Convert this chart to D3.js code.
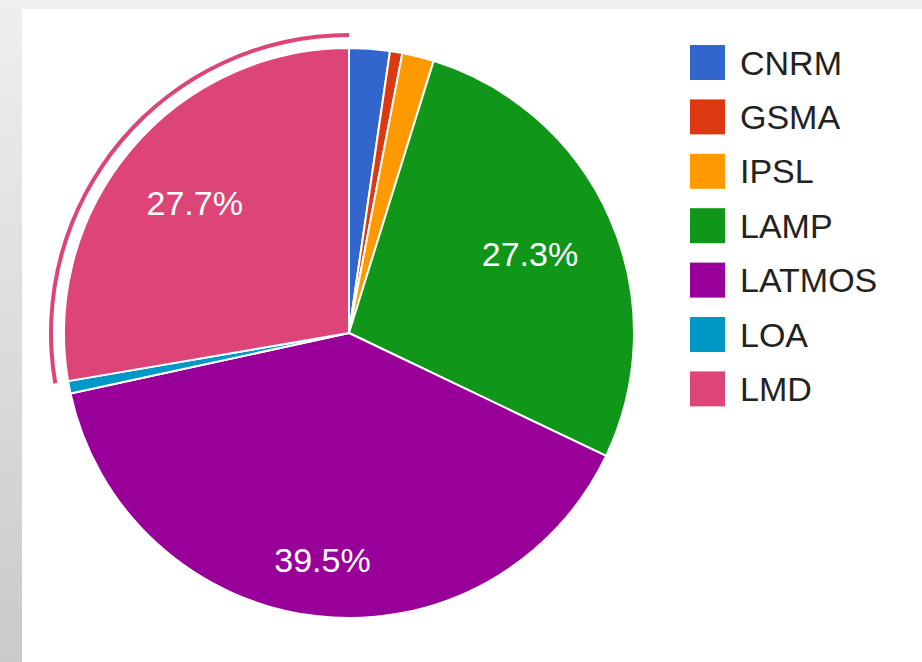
<!DOCTYPE html>
<html>
<head>
<meta charset="utf-8">
<script src="https://cdn.jsdelivr.net/npm/d3@7"></script>
<style>
  html, body { margin: 0; padding: 0; background: #f0f0f0; }
  svg { display: block; }
  text { font-family: "Liberation Sans", Arial, sans-serif; }
</style>
</head>
<body>
<svg id="chart" width="922" height="662"></svg>
<script>
// ---- data ----
const categories = ["CNRM", "GSMA", "IPSL", "LAMP", "LATMOS", "LOA", "LMD"];
const values = [2.3, 0.7, 1.8, 27.3, 39.5, 0.7, 27.7];
const colors = ["#3366cc", "#dc3912", "#ff9900", "#109618", "#990099", "#0099c6", "#dd4477"];
const highlighted = "LMD";

// ---- layout ----
const W = 922, H = 662;
const cx = 349, cy = 333, R = 285;
const fontSize = 34;
const svg = d3.select("#chart");

// background
const defs = svg.append("defs");
const grad = defs.append("linearGradient").attr("id", "leftGrad")
  .attr("x1", 0).attr("y1", 0).attr("x2", 0).attr("y2", 1);
grad.append("stop").attr("offset", "0%").attr("stop-color", "#efefef");
grad.append("stop").attr("offset", "100%").attr("stop-color", "#cacaca");
svg.append("rect").attr("width", W).attr("height", H).attr("fill", "#f0f0f0");
svg.append("rect").attr("x", 0).attr("y", 0).attr("width", 22).attr("height", H).attr("fill", "url(#leftGrad)");
svg.append("rect").attr("x", 22).attr("y", 9).attr("width", W - 22).attr("height", H - 9).attr("fill", "#ffffff");

const color = d3.scaleOrdinal().domain(categories).range(colors);
const data = categories.map((c, i) => ({ name: c, value: values[i] }));
const total = d3.sum(values);

const pie = d3.pie().sort(null).value(d => d.value);
const arcs = pie(data);
const arc = d3.arc().innerRadius(0).outerRadius(R);

const g = svg.append("g").attr("transform", `translate(${cx},${cy})`);

g.selectAll("path.slice").data(arcs).join("path")
  .attr("class", "slice")
  .attr("d", arc)
  .attr("fill", d => color(d.data.name))
  .attr("stroke", "#ffffff")
  .attr("stroke-width", 2)
  .attr("stroke-linejoin", "round");

// highlight ring for selected slice
const ringArc = d3.arc().innerRadius(R + 11).outerRadius(R + 15);
g.selectAll("path.ring").data(arcs.filter(d => d.data.name === highlighted)).join("path")
  .attr("class", "ring")
  .attr("d", ringArc)
  .attr("fill", d => color(d.data.name));

// slice labels
const fmt = d3.format(".1%");
const capH = fontSize * 0.716;
const labelArcs = arcs.filter(d => d.data.value / total >= 0.05);
g.selectAll("text.lbl").data(labelArcs).join("text")
  .attr("class", "lbl")
  .attr("text-anchor", "middle")
  .attr("font-size", fontSize)
  .attr("fill", "#ffffff")
  .text(d => fmt(d.data.value / total))
  .each(function (d) {
    const w = this.getComputedTextLength();
    const a = (d.startAngle + d.endAngle) / 2;
    const sx = Math.sin(a), sy = -Math.cos(a);
    const support = Math.abs(sx) * w / 2 + Math.abs(sy) * capH / 2;
    const dist = 0.865 * R - support;
    d3.select(this)
      .attr("x", dist * sx)
      .attr("y", dist * sy + capH / 2);
  });

// legend
const legendX = 690, legendY0 = 45, legendStep = 54.4, box = 35;
const lg = svg.append("g");
const rows = lg.selectAll("g.row").data(categories).join("g")
  .attr("class", "row")
  .attr("transform", (d, i) => `translate(${legendX},${legendY0 + i * legendStep})`);
rows.append("rect")
  .attr("width", box).attr("height", box)
  .attr("fill", d => color(d));
rows.append("text")
  .attr("x", 50)
  .attr("y", box / 2 + capH / 2)
  .attr("font-size", fontSize)
  .attr("fill", "#222222")
  .text(d => d);
</script>
</body>
</html>
